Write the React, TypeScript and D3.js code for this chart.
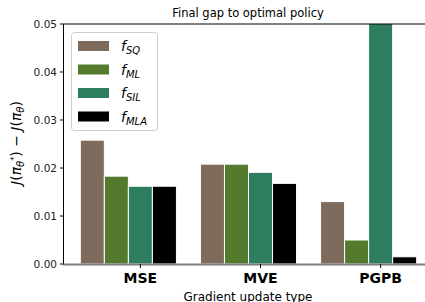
import React from "react";
import * as d3 from "d3";

const categories = ["MSE", "MVE", "PGPB"];
const seriesNames = ["SQ", "ML", "SIL", "MLA"];
const seriesColors = ["#7f6b5c", "#537a2d", "#2e7d5e", "#000000"];
// values[series][category]
const values = [
  [0.0258, 0.0208, 0.013],
  [0.0183, 0.0208, 0.005],
  [0.0162, 0.0191, 0.08],
  [0.0162, 0.0168, 0.0015],
];
const yTicks = [0, 0.01, 0.02, 0.03, 0.04, 0.05];

const W = 425;
const H = 302;
const barW = 0.2;

export default function App() {
  const x = d3.scaleLinear().domain([-0.24, 2.84]).range([63.5, 433.5]);
  const y = d3.scaleLinear().domain([0, 0.05]).range([264, 24]);
  const font = "DejaVu Sans, sans-serif";

  return (
    <svg width={W} height={H} style={{ position: "absolute", left: 0, top: 0 }}>
      <rect width={W} height={H} fill="#fff" />
      <defs>
        <clipPath id="plot">
          <rect x={63.5} y={24} width={370} height={240} />
        </clipPath>
      </defs>
      <g clipPath="url(#plot)">
        {values.map((row, s) =>
          row.map((v, c) => {
            const cx = c + s * barW;
            const x0 = x(cx - barW / 2);
            const x1 = x(cx + barW / 2);
            return (
              <rect
                key={s + "-" + c}
                x={x0}
                y={y(v)}
                width={x1 - x0}
                height={y(0) - y(v)}
                fill={seriesColors[s]}
                stroke="#fff"
                strokeWidth={1}
              />
            );
          })
        )}
      </g>
      {/* spines */}
      <line x1={63.5} x2={63.5} y1={24} y2={264} stroke="#000" strokeWidth={1} />
      <line x1={63.5} x2={433.5} y1={24} y2={24} stroke="#000" strokeWidth={1} />
      <line x1={63} x2={433.5} y1={264.5} y2={264.5} stroke="#7f7f7f" strokeWidth={2} />
      {yTicks.map((t) => (
        <g key={t}>
          <line x1={60} x2={63.5} y1={y(t)} y2={y(t)} stroke="#000" />
          <text
            x={57}
            y={y(t)}
            textAnchor="end"
            dominantBaseline="central"
            fontFamily={font}
            fontSize={10.5}
            fill="#222"
          >
            {t.toFixed(2)}
          </text>
        </g>
      ))}
      {categories.map((c, i) => (
        <g key={c}>
          <line x1={x(i + 0.4)} x2={x(i + 0.4)} y1={264} y2={268} stroke="#000" />
          <text
            x={x(i + 0.4)}
            y={283}
            textAnchor="middle"
            fontFamily={font}
            fontWeight="bold"
            fontSize={14}
          >
            {c}
          </text>
        </g>
      ))}
      <text x={248} y={301} textAnchor="middle" fontFamily={font} fontSize={12}>
        Gradient update type
      </text>
      <text x={248} y={17} textAnchor="middle" fontFamily={font} fontSize={11.5}>
        Final gap to optimal policy
      </text>
      <text
        transform="translate(21,143) rotate(-90)"
        textAnchor="middle"
        fontFamily={font}
        fontSize={14}
      >
        <tspan fontStyle="italic">J</tspan>(<tspan fontStyle="italic">π</tspan>
        <tspan fontStyle="italic" fontSize={10} dy={3}>θ</tspan>
        <tspan fontSize={8} dy={-7}>*</tspan>
        <tspan dy={4}>) − </tspan>
        <tspan fontStyle="italic">J</tspan>(<tspan fontStyle="italic">π</tspan>
        <tspan fontStyle="italic" fontSize={10} dy={3}>θ</tspan>
        <tspan dy={-3}>)</tspan>
      </text>
      {/* legend */}
      <rect
        x={71.5}
        y={32.5}
        width={86}
        height={98}
        rx={3}
        fill="#fff"
        fillOpacity={0.8}
        stroke="#ccc"
      />
      {seriesNames.map((n, i) => (
        <g key={n} transform={`translate(0,${46 + i * 23.5})`}>
          <rect x={78} y={-5} width={31} height={10} fill={seriesColors[i]} />
          <text x={121} y={5} fontFamily={font} fontSize={14}>
            <tspan fontStyle="italic">f</tspan>
            <tspan fontStyle="italic" fontSize={10} dy={3}>{n}</tspan>
          </text>
        </g>
      ))}
    </svg>
  );
}
